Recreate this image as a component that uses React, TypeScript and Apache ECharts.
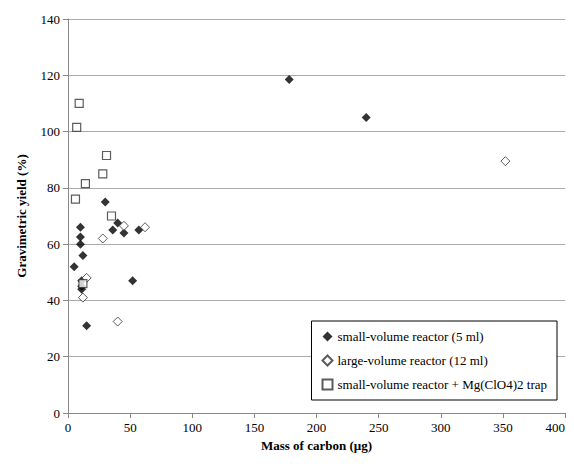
import React, { useEffect, useRef } from 'react';
import * as echarts from 'echarts';

const smallReactor = [
  [5, 52], [10, 66], [10, 62.5], [10, 60], [12, 56], [11, 47], [11, 45], [11, 44], [15, 31],
  [30, 75], [36, 65], [40, 67.5], [45, 64], [52, 47], [57, 65], [178, 118.5], [240, 105],
];
const largeReactor = [
  [15, 48], [12, 41], [28, 62], [40, 32.5], [45, 66.5], [62, 66], [352, 89.5],
];
const trapReactor = [
  [9, 110], [7, 101.5], [6, 76], [14, 81.5], [31, 91.5], [28, 85], [35, 70], [12, 46],
];

const font = 'Liberation Serif';

export default function App() {
  const ref = useRef<HTMLDivElement>(null);

  useEffect(() => {
    if (!ref.current) return;
    const chart = echarts.init(ref.current, null, { renderer: 'svg' });
    chart.setOption({
      animation: false,
      textStyle: { fontFamily: font },
      grid: { left: 60, right: 1, top: 11, bottom: 51, outerBoundsMode: 'none' },
      legend: {
        orient: 'vertical',
        right: 9,
        bottom: 64,
        backgroundColor: '#fff',
        borderColor: '#000',
        borderWidth: 1,
        padding: [9, 10],
        itemGap: 11,
        itemWidth: 10,
        itemHeight: 10,
        textStyle: { fontFamily: font, fontSize: 13, color: '#000' },
        data: [
          'small-volume reactor (5 ml)',
          'large-volume reactor (12 ml)',
          'small-volume reactor + Mg(ClO4)2 trap',
        ],
      },
      xAxis: {
        type: 'value', min: 0, max: 400, interval: 50,
        name: 'Mass of carbon (µg)', nameLocation: 'middle', nameGap: 26,
        nameTextStyle: { fontFamily: font, fontWeight: 'bold', fontSize: 13, color: '#000' },
        axisLine: { lineStyle: { color: '#888' } },
        axisTick: { show: true, lineStyle: { color: '#888' } },
        axisLabel: { color: '#000', fontSize: 13, alignMaxLabel: 'right' },
        splitLine: { show: false },
      },
      yAxis: {
        type: 'value', min: 0, max: 140, interval: 20,
        name: 'Gravimetric yield (%)', nameLocation: 'middle', nameGap: 40,
        nameTextStyle: { fontFamily: font, fontWeight: 'bold', fontSize: 13, color: '#000' },
        axisLine: { show: true, lineStyle: { color: '#888' } },
        axisTick: { show: true, lineStyle: { color: '#888' } },
        axisLabel: { color: '#000', fontSize: 13 },
        splitLine: { lineStyle: { color: '#aaa' } },
      },
      series: [
        {
          name: 'small-volume reactor (5 ml)', type: 'scatter', data: smallReactor,
          symbol: 'diamond', symbolSize: 9, itemStyle: { color: '#000' },
        },
        {
          name: 'large-volume reactor (12 ml)', type: 'scatter', data: largeReactor,
          symbol: 'diamond', symbolSize: 9,
          itemStyle: { color: '#fff', borderColor: '#333', borderWidth: 1 },
        },
        {
          name: 'small-volume reactor + Mg(ClO4)2 trap', type: 'scatter', data: trapReactor,
          symbol: 'rect', symbolSize: 8,
          itemStyle: { color: '#fff', borderColor: '#333', borderWidth: 1.2 },
        },
      ],
    });
    return () => chart.dispose();
  }, []);

  return <div ref={ref} style={{ width: 558, height: 456 }} />;
}
